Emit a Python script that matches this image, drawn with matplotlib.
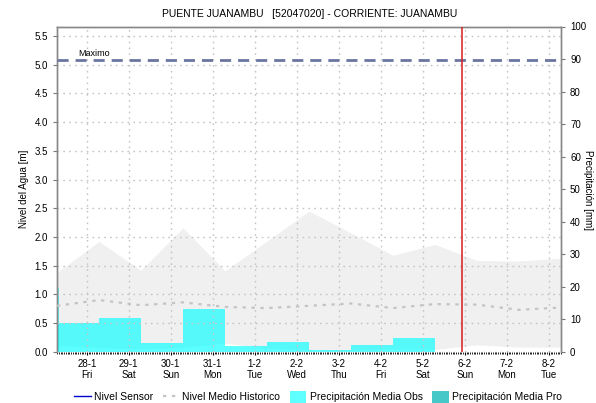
import numpy as np
import pandas as pd
import matplotlib
matplotlib.use('Agg')
import matplotlib.pyplot as plt
import matplotlib.dates as mdates
from matplotlib.lines import Line2D
from matplotlib.patches import Patch

plt.rcParams['font.family'] = ['Liberation Sans', 'DejaVu Sans']

# daily points at 07:00, from 27-1 to 8-2
day_points = pd.date_range('2022-01-27 07:00', periods=13, freq='D')
hist_max = [1.38, 1.92, 1.42, 2.16, 1.41, 1.93, 2.45, 2.07, 1.68, 1.87, 1.59, 1.58, 1.63]
hist_min = [0.11, 0.07, 0.05, 0.07, 0.15, 0.06, 0.03, 0.02, 0.05, 0.04, 0.12, 0.08, 0.08]
hist_mean = [0.80, 0.90, 0.81, 0.86, 0.78, 0.76, 0.80, 0.84, 0.76, 0.83, 0.82, 0.73, 0.77]

# daily precipitation (mm), 07:00 -> 07:00
precip_days = pd.date_range('2022-01-27 07:00', periods=9, freq='D')
precip_obs = [8.7, 10.5, 2.8, 13.1, 1.8, 3.0, 0.4, 2.1, 4.3]
precip_spike = 19.5  # first reading at left edge

nivel_maximo = 5.08
now = pd.Timestamp('2022-02-05 22:10')

x_start = pd.Timestamp('2022-01-27 07:00')
x_end = pd.Timestamp('2022-02-08 07:00')
ymax_nivel = 5.667
ymax_precip = 100

fig = plt.figure(figsize=(5.96, 4.03), dpi=100)
ax = fig.add_axes([57 / 596, 1 - 351.7 / 403, 504 / 596, (351.7 - 26.5) / 403])
ax2 = ax.twinx()

# back axis (precipitation): historic band + bars
scale = ymax_precip / ymax_nivel
ax2.fill_between(day_points, np.array(hist_min) * scale, np.array(hist_max) * scale,
                 color='#f0f0f0', lw=0, zorder=1)
ax2.bar(precip_days, precip_obs, width=1.0, align='edge', color='#00ffff', alpha=0.64, lw=0, zorder=2)
ax2.bar([x_start], [precip_spike], width=0.04, align='edge', color='#00ffff', alpha=0.64, lw=0, zorder=2)

# front axis (level): mean, maximum, now
ax.plot(day_points, hist_mean, color='#c4c4c4', lw=1.6, ls=(0, (1.5, 2.5)), zorder=3)
ax.axhline(nivel_maximo, color='#6a76a0', lw=2, ls=(0, (4, 2.5)), zorder=4)
ax.text(pd.Timestamp('2022-01-27 19:00'), nivel_maximo + 0.03, 'Maximo', fontsize=6.5, va='bottom')
ax.axvline(now, color='#d81c1c', lw=1.1, zorder=5)

ax.set_zorder(ax2.get_zorder() + 1)
ax.patch.set_visible(False)

ax.set_xlim(x_start, x_end)
ax.set_ylim(0, ymax_nivel)
ax2.set_ylim(0, ymax_precip)
yt = np.arange(0, 5.51, 0.5)
ax.set_yticks(yt)
ax.set_yticklabels([f'{v:.1f}' for v in yt])
ax2.set_yticks(np.arange(0, 101, 10))

ax.xaxis.set_major_locator(mdates.DayLocator())
ax.xaxis.set_major_formatter(mdates.DateFormatter('%-d-%-m\n%a'))
ax.xaxis.set_minor_locator(mdates.HourLocator(interval=1))
ax.tick_params(axis='x', which='minor', length=1.5, width=0.6, color='black')
ax.tick_params(axis='x', which='major', length=2, labelsize=7, color='black', pad=3)
ax.tick_params(axis='y', labelsize=7, length=3, color='#777777')
ax2.tick_params(axis='y', labelsize=7, length=3, color='#777777')

ax.grid(True, color='#c4c4c4', ls=(0, (1.2, 3)), lw=1.0)

for a in (ax, ax2):
    for s in ('left', 'right', 'top'):
        a.spines[s].set_color('#888888')
        a.spines[s].set_linewidth(1)
    a.spines['bottom'].set_visible(False)

ax.set_ylabel('Nivel del Agua [m]', fontsize=7, labelpad=4)
fig.text(588 / 596, 1 - 190 / 403, 'Precipitación [mm]', fontsize=7, rotation=270,
         ha='center', va='center')
fig.text(310 / 596, 1 - 14 / 403, 'PUENTE JUANAMBU   [52047020] - CORRIENTE: JUANAMBU',
         ha='center', va='center', fontsize=7.5)

handles = [
    Line2D([], [], color='#0000cc', lw=1),
    Line2D([], [], color='#c4c4c4', lw=1.6, ls=(0, (1.5, 2.5))),
    Patch(facecolor='#5fffff', edgecolor='none'),
    Patch(facecolor='#46c8c8', edgecolor='none'),
]
labels = ['Nivel Sensor', 'Nivel Medio Historico', 'Precipitación Media Obs', 'Precipitación Media Pro']
fig.legend(handles, labels, loc='center', bbox_to_anchor=(318 / 596, 1 - 397 / 403), ncol=4,
           frameon=False, fontsize=7.5, handlelength=1.6, handletextpad=0.3, columnspacing=0.9,
           handleheight=1.3)

fig.savefig('out.png', dpi=100)
